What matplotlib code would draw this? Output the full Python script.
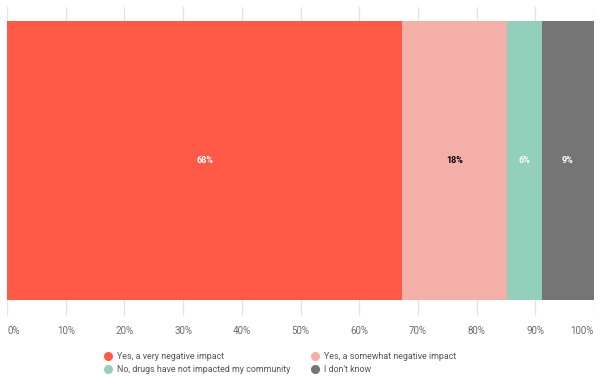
import matplotlib.pyplot as plt
from matplotlib.lines import Line2D

plt.rcParams['font.family'] = ['Roboto', 'DejaVu Sans']

# Survey answers (percent, as labelled; they add up to 101 so bar is normalised)
categories = ['Yes, a very negative impact', 'Yes, a somewhat negative impact',
              'No, drugs have not impacted my community', "I don't know"]
values = [68, 18, 6, 9]
colors = ['#FF5A47', '#F4B0A8', '#93D0BB', '#757575']
label_colors = ['white', 'black', 'white', 'white']
ticks = [0, 10, 20, 30, 40, 50, 60, 70, 80, 90, 100]
tick_labels = [f'{t}%' for t in ticks]

total = sum(values)
shares = [v / total * 100 for v in values]

fig = plt.figure(figsize=(6.01, 3.90), dpi=100)
ax = fig.add_axes([7 / 601, 1 - 316 / 390, 587 / 601, 309 / 390])

left = 0
for share, val, col, lc in zip(shares, values, colors, label_colors):
    ax.barh(0, share, left=left, height=0.903, color=col, zorder=2)
    ax.text(left + share / 2, 0, f'{val}%', ha='center', va='center',
            color=lc, fontsize=6.5, fontweight='bold', zorder=3)
    left += share

ax.set_xlim(0, 100)
ax.set_ylim(-0.503, 0.497)
ax.set_yticks([])
ax.set_xticks(ticks)
ax.set_xticklabels(tick_labels, fontsize=7, color='#6a6a6a')
tl = ax.get_xticklabels()
tl[0].set_ha('left')
tl[-1].set_ha('right')
ax.tick_params(axis='x', length=0, pad=7)
ax.grid(axis='x', color='#E3E3E3', linewidth=0.9, zorder=0)
for s in ax.spines.values():
    s.set_visible(False)

# legend: column-wise fill so rows read a|b and c|d
order = [0, 2, 1, 3]
handles = [Line2D([], [], marker='o', linestyle='', markersize=5.5,
                  markerfacecolor=colors[i], markeredgecolor=colors[i]) for i in order]
labels = [categories[i] for i in order]
fig.legend(handles, labels, ncol=2, loc='upper center',
           bbox_to_anchor=(0.5 - 21 / 601, 1 - 344 / 390),
           frameon=False, fontsize=6.4, labelcolor='#555555', handletextpad=0.4,
           columnspacing=2.2, labelspacing=0.45, handlelength=1.2)

plt.savefig('out.png', dpi=100)
